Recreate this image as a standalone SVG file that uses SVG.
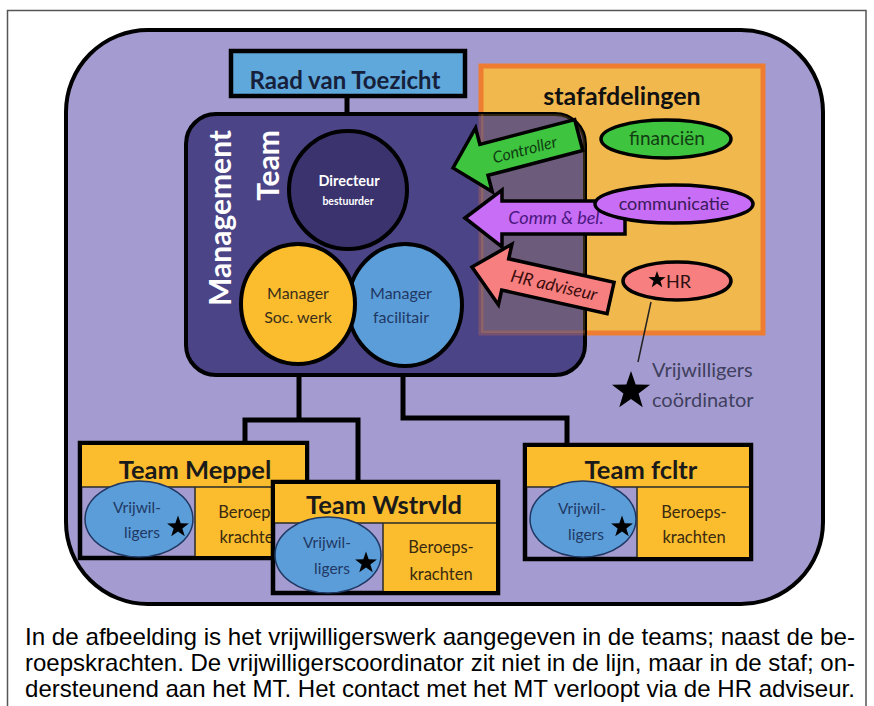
<svg xmlns="http://www.w3.org/2000/svg" width="874" height="706" viewBox="0 0 874 706">
<style>
.lbl{font-family:Lato,"Liberation Sans",sans-serif}
.b{font-weight:bold}
.it{font-style:italic}
.box{stroke:#000;stroke-width:4.5}
.thin{stroke:#2a2a2a;stroke-width:1.5;fill:none}
.ell{fill:#5b9dd8;stroke:#1f3864;stroke-width:1.5}
.yel{fill:#fbbd2e}
.lav{fill:#a49cd0}
.conn{stroke:#000;stroke-width:5;fill:none}
.arr{stroke:#000;stroke-width:3.5;stroke-linejoin:miter}
.cap{font-family:"Liberation Sans",Arial,sans-serif;font-size:24px;fill:#000}
.vr{font-size:15.5px;fill:#1f3864}
.br{font-size:16.5px;fill:#3a2a10}
.tm{font-size:25.5px;fill:#1a1a1a}
</style>
<defs>
<path id="star" d="M0,-1 L0.235,-0.324 L0.951,-0.309 L0.38,0.124 L0.588,0.809 L0,0.4 L-0.588,0.809 L-0.38,0.124 L-0.951,-0.309 L-0.235,-0.324Z"/>
<clipPath id="mtclip"><rect x="186" y="114" width="399" height="261" rx="30"/></clipPath>
</defs>
<rect width="874" height="706" fill="#fff"/>
<rect x="7.5" y="10.5" width="858.5" height="720" fill="none" stroke="#555" stroke-width="1.5"/>

<g id="background">
<rect x="66" y="30" width="757" height="574" rx="82" fill="#a49cd0" stroke="#000" stroke-width="4"/>
</g>

<g id="stafafdelingen">
<rect x="481" y="66" width="282" height="267" fill="#f1b84d" stroke="#ee7d31" stroke-width="5"/>
<text class="lbl b" x="622" y="105" font-size="25" text-anchor="middle" fill="#111">stafafdelingen</text>
</g>

<g id="connectors">
<line class="conn" x1="347" y1="97" x2="347" y2="131"/>
<path class="conn" d="M299,362 V420 M245,445 V420 H358 V482 M403,366 V418 H567 V445"/>
<line x1="651" y1="302" x2="638" y2="362" stroke="#222" stroke-width="1.5"/>
</g>

<g id="raad">
<rect class="box" x="231" y="51" width="234" height="45" fill="#5ea8dc"/>
<text class="lbl b" x="345" y="89" font-size="24" text-anchor="middle" fill="#17203a">Raad van Toezicht</text>
</g>

<g id="management-team">
<rect x="186" y="114" width="399" height="261" rx="30" fill="#4b4486" stroke="#000" stroke-width="4"/>
<rect x="481" y="66" width="282" height="267" fill="#f1b84d" fill-opacity="0.2" stroke="#ee7d31" stroke-opacity="0.25" stroke-width="5" clip-path="url(#mtclip)"/>
<text class="lbl b" transform="translate(231,130) rotate(-90)" font-size="30" text-anchor="end" fill="#fff">Management</text>
<text class="lbl b" transform="translate(279,130) rotate(-90)" font-size="30" text-anchor="end" fill="#fff">Team</text>
</g>

<g id="directeur">
<circle cx="348" cy="190" r="59" fill="#3a336e" stroke="#000" stroke-width="4"/>
<text class="lbl b" x="349" y="186" font-size="14.5" text-anchor="middle" fill="#fff">Directeur</text>
<text class="lbl b" x="348" y="205" font-size="10.5" text-anchor="middle" fill="#fff">bestuurder</text>
</g>

<g id="manager-facilitair">
<ellipse cx="405" cy="305" rx="57" ry="61" fill="#5b9dd8" stroke="#000" stroke-width="4"/>
<text class="lbl" x="401" y="299" font-size="16" text-anchor="middle" fill="#1f3864">Manager</text>
<text class="lbl" x="401" y="323" font-size="16" text-anchor="middle" fill="#1f3864">facilitair</text>
</g>

<g id="manager-soc-werk">
<ellipse cx="298" cy="304" rx="57" ry="60" fill="#fbbd2e" stroke="#000" stroke-width="4"/>
<text class="lbl" x="298" y="299" font-size="16" text-anchor="middle" fill="#3a2f1a">Manager</text>
<text class="lbl" x="298" y="323" font-size="16" text-anchor="middle" fill="#3a2f1a">Soc. werk</text>
</g>

<g id="arrow-controller" transform="translate(453,168) rotate(-14.7)">
<polygon class="arr" fill="#3ec43e" points="0,0 32,-33 32,-16 130,-16 130,16 32,16 32,33"/>
<text class="lbl it" x="74" y="6" font-size="16" text-anchor="middle" fill="#0f3d12">Controller</text>
</g>

<g id="arrow-comm">
<polygon class="arr" fill="#c86df5" points="465,218 502,190 502,201 625,201 625,234 502,234 502,247"/>
<text class="lbl it" x="556" y="224" font-size="18" text-anchor="middle" fill="#4a1780">Comm &amp; bel.</text>
</g>

<g id="arrow-hr" transform="translate(472,267) rotate(12.6)">
<polygon class="arr" fill="#f77f7f" points="0,0 34,-31 34,-16 142,-16 142,16 34,16 34,31"/>
<text class="lbl it" x="84" y="6" font-size="17.5" text-anchor="middle" fill="#3b0d0d">HR adviseur</text>
</g>

<g id="financien">
<ellipse cx="666" cy="139" rx="65" ry="19" fill="#3ec43e" stroke="#000" stroke-width="3.5"/>
<text class="lbl" x="667" y="145" font-size="19" text-anchor="middle" fill="#123d12">financiën</text>
</g>

<g id="communicatie">
<ellipse cx="674" cy="204" rx="79" ry="19" fill="#c86df5" stroke="#000" stroke-width="3.5"/>
<text class="lbl" x="674" y="210" font-size="18" text-anchor="middle" fill="#3a1a5a">communicatie</text>
</g>

<g id="hr">
<ellipse cx="677" cy="281" rx="54" ry="19" fill="#f77f7f" stroke="#000" stroke-width="3.5"/>
<use href="#star" transform="translate(657,280) scale(9)"/>
<text class="lbl" x="666" y="288" font-size="18" fill="#2a1010">HR</text>
</g>

<g id="vrijwilligers-coordinator">
<use href="#star" transform="translate(631,391) scale(20)"/>
<text class="lbl" x="652" y="377" font-size="20" fill="#40405e">Vrijwilligers</text>
<text class="lbl" x="652" y="407" font-size="20" fill="#40405e">coördinator</text>
</g>

<g id="team-meppel">
<rect class="box lav" x="80" y="443" width="227" height="115"/>
<rect class="yel" x="82" y="445" width="223" height="42"/>
<rect class="yel" x="195" y="487" width="110" height="69"/>
<path class="thin" d="M82,487 H305 M195,487 V556"/>
<ellipse class="ell" cx="139" cy="519" rx="54" ry="38"/>
<text class="lbl b tm" x="195" y="479" text-anchor="middle">Team Meppel</text>
<text class="lbl vr" x="137" y="513" text-anchor="middle">Vrijwil-</text>
<text class="lbl vr" x="142" y="538" text-anchor="middle">ligers</text>
<use href="#star" transform="translate(178,527) scale(11.5)"/>
<text class="lbl br" x="251" y="518" text-anchor="middle">Beroeps-</text>
<text class="lbl br" x="251" y="543" text-anchor="middle">krachten</text>
</g>

<g id="team-wstrvld">
<rect class="box lav" x="273" y="482" width="225" height="111"/>
<rect class="yel" x="275" y="484" width="221" height="39"/>
<rect class="yel" x="383" y="523" width="113" height="68"/>
<path class="thin" d="M275,523 H496 M383,523 V591"/>
<ellipse class="ell" cx="328" cy="555" rx="53" ry="38"/>
<text class="lbl b tm" x="384" y="514" text-anchor="middle">Team Wstrvld</text>
<text class="lbl vr" x="327" y="548" text-anchor="middle">Vrijwil-</text>
<text class="lbl vr" x="332" y="574" text-anchor="middle">ligers</text>
<use href="#star" transform="translate(366,563) scale(11.5)"/>
<text class="lbl br" x="441" y="553" text-anchor="middle">Beroeps-</text>
<text class="lbl br" x="441" y="580" text-anchor="middle">krachten</text>
</g>

<g id="team-fcltr">
<rect class="box lav" x="525" y="445" width="226" height="114"/>
<rect class="yel" x="527" y="447" width="222" height="40"/>
<rect class="yel" x="637" y="487" width="112" height="70"/>
<path class="thin" d="M527,487 H749 M637,487 V557"/>
<ellipse class="ell" cx="583" cy="519" rx="53" ry="38"/>
<text class="lbl b tm" x="641" y="479" text-anchor="middle">Team fcltr</text>
<text class="lbl vr" x="582" y="514" text-anchor="middle">Vrijwil-</text>
<text class="lbl vr" x="586" y="540" text-anchor="middle">ligers</text>
<use href="#star" transform="translate(622,527) scale(11.5)"/>
<text class="lbl br" x="694" y="518" text-anchor="middle">Beroeps-</text>
<text class="lbl br" x="694" y="543" text-anchor="middle">krachten</text>
</g>

<g id="caption">
<text class="cap" x="25" y="645" textLength="830" lengthAdjust="spacingAndGlyphs">In de afbeelding is het vrijwilligerswerk aangegeven in de teams; naast de be-</text>
<text class="cap" x="25" y="671" textLength="830" lengthAdjust="spacingAndGlyphs">roepskrachten. De vrijwilligerscoordinator zit niet in de lijn, maar in de staf; on-</text>
<text class="cap" x="25" y="697" textLength="830" lengthAdjust="spacingAndGlyphs">dersteunend aan het MT. Het contact met het MT verloopt via de HR adviseur.</text>
</g>
</svg>
